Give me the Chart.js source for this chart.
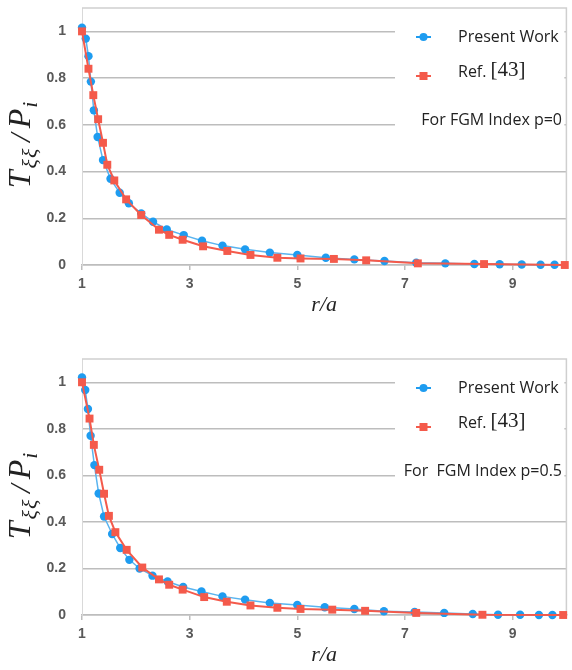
<!DOCTYPE html>
<html>
<head>
<meta charset="utf-8">
<script src="https://cdn.jsdelivr.net/npm/chart.js@4.4.1/dist/chart.umd.min.js"></script>
<style>
  body { margin: 0; background: #fff; }
  canvas { position: absolute; left: 0; }
  #chartP0 { top: 0; }
  #chartP5 { top: 335px; }
</style>
</head>
<body>
<canvas id="chartP0" width="572" height="335"></canvas>
<canvas id="chartP5" width="572" height="335"></canvas>
<script>
const xTicks = [1, 3, 5, 7, 9];
const yTicks = [0, 0.2, 0.4, 0.6, 0.8, 1];

// FGM index p = 0
const presentR0 = [1.0, 1.07, 1.12, 1.165, 1.22, 1.29, 1.39, 1.53, 1.70, 1.87, 2.10, 2.32, 2.575, 2.89, 3.23, 3.61, 4.03, 4.49, 5.0, 5.53, 6.06, 6.62, 7.21, 7.75, 8.29, 8.76, 9.17, 9.52, 9.78];
const presentT0 = [1.016, 0.969, 0.894, 0.785, 0.662, 0.548, 0.449, 0.369, 0.309, 0.264, 0.221, 0.185, 0.152, 0.128, 0.104, 0.083, 0.067, 0.053, 0.043, 0.031, 0.024, 0.017, 0.010, 0.007, 0.004, 0.003, 0.002, 0.001, 0.001];
const refR0 = [1.0, 1.12, 1.21, 1.30, 1.39, 1.47, 1.60, 1.82, 2.10, 2.43, 2.62, 2.87, 3.25, 3.70, 4.13, 4.63, 5.06, 5.68, 6.28, 7.24, 8.47, 9.97];
const refT0 = [1.0, 0.84, 0.727, 0.624, 0.523, 0.429, 0.362, 0.281, 0.214, 0.151, 0.129, 0.108, 0.080, 0.060, 0.043, 0.031, 0.028, 0.026, 0.020, 0.007, 0.004, 0.0];

// FGM index p = 0.5
const presentR5 = [1.0, 1.06, 1.11, 1.16, 1.23, 1.31, 1.41, 1.56, 1.71, 1.88, 2.07, 2.31, 2.59, 2.88, 3.22, 3.61, 4.03, 4.49, 5.0, 5.51, 6.06, 6.61, 7.18, 7.73, 8.26, 8.73, 9.14, 9.49, 9.74];
const presentT5 = [1.021, 0.967, 0.885, 0.770, 0.644, 0.522, 0.423, 0.348, 0.288, 0.237, 0.200, 0.169, 0.144, 0.120, 0.101, 0.080, 0.066, 0.052, 0.043, 0.033, 0.026, 0.016, 0.013, 0.009, 0.004, 0.001, 0.001, 0.0, 0.0];
const refR5 = [1.0, 1.14, 1.22, 1.32, 1.41, 1.50, 1.62, 1.83, 2.12, 2.43, 2.62, 2.87, 3.27, 3.69, 4.13, 4.63, 5.06, 5.65, 6.26, 7.21, 8.44, 9.94];
const refT5 = [1.0, 0.844, 0.731, 0.624, 0.521, 0.426, 0.356, 0.280, 0.204, 0.153, 0.130, 0.109, 0.077, 0.057, 0.041, 0.031, 0.026, 0.023, 0.018, 0.009, 0.001, 0.0];

const BLUE = '#1e9cf0';
const BLUE_LINE = '#5ab4ef';
const RED = '#f45a4b';
const GRID = '#bdbdbd';

const toPoints = (xs, ys) => xs.map((x, i) => ({ x: x, y: ys[i] }));

// top and right edges of the plot frame
const frame = {
  id: 'frame',
  beforeDatasetsDraw(chart) {
    const { ctx, chartArea: a } = chart;
    ctx.save();
    ctx.strokeStyle = '#cfcfcf';
    ctx.lineWidth = 1.5;
    ctx.beginPath();
    ctx.moveTo(a.left, a.top);
    ctx.lineTo(a.right, a.top);
    ctx.lineTo(a.right, a.bottom);
    ctx.stroke();
    ctx.restore();
  }
};

// boxed key in the upper right corner, with the FGM index note
const seriesKey = {
  id: 'seriesKey',
  afterDraw(chart, args, opts) {
    const { ctx, chartArea: a } = chart;
    const t = a.top;
    const ds = chart.data.datasets;
    ctx.save();
    ctx.fillStyle = '#fff';
    ctx.fillRect(395, t + 2, a.right - 397, 150);

    ctx.strokeStyle = BLUE;
    ctx.lineWidth = 2;
    ctx.beginPath(); ctx.moveTo(416, t + 29); ctx.lineTo(431, t + 29); ctx.stroke();
    ctx.fillStyle = BLUE;
    ctx.beginPath(); ctx.arc(423.5, t + 29, 4, 0, Math.PI * 2); ctx.fill();

    ctx.strokeStyle = RED;
    ctx.beginPath(); ctx.moveTo(416, t + 68); ctx.lineTo(431, t + 68); ctx.stroke();
    ctx.fillStyle = RED;
    ctx.fillRect(419.5, t + 64, 8, 8);

    ctx.fillStyle = '#222';
    ctx.textBaseline = 'middle';
    ctx.textAlign = 'left';
    ctx.font = '16px "Open Sans"';
    ctx.fillText(ds[0].label, 458, t + 29);
    const [refWord, refNum] = ds[1].label.split(' ');
    ctx.fillText(refWord, 458, t + 64);
    const w = ctx.measureText(refWord + ' ').width;
    ctx.font = '21px "Liberation Serif"';
    ctx.fillText(refNum, 458 + w, t + 62);

    ctx.font = '16px "Open Sans"';
    ctx.textAlign = 'right';
    ctx.fillText(opts.note, 562, t + 112);
    ctx.restore();
  }
};

// vertical axis title T_ξξ / P_i with subscripts
const yTitle = {
  id: 'yTitle',
  afterDraw(chart) {
    const { ctx, chartArea: a } = chart;
    // text, font size, baseline shift, gap after
    const parts = [['T', 32, 0, 2], ['ξ', 22, 7, 1], ['ξ', 22, 7, 7], ['/', 30, 0, 5], ['P', 32, 0, 1], ['i', 22, 7, 0]];
    ctx.save();
    ctx.translate(23, a.top + 137);
    ctx.rotate(-Math.PI / 2);
    let total = 0;
    const widths = parts.map(([s, size, dy, gap]) => {
      ctx.font = `italic ${size}px "Liberation Serif"`;
      const w = ctx.measureText(s).width + gap;
      total += w;
      return w;
    });
    let x = -total / 2;
    ctx.fillStyle = '#222';
    ctx.textBaseline = 'alphabetic';
    parts.forEach(([s, size, dy], i) => {
      ctx.font = `italic ${size}px "Liberation Serif"`;
      ctx.fillText(s, x, 7 + dy);
      x += widths[i];
    });
    ctx.restore();
  }
};

const tickFont = { family: '"Liberation Sans", Arial, sans-serif', size: 14, weight: 'bold' };

function makeChart(id, presentR, presentT, refR, refT, note, padTop, padBottom) {
  return new Chart(document.getElementById(id), {
    type: 'scatter',
    data: {
      datasets: [{
        label: 'Present Work',
        data: toPoints(presentR, presentT),
        showLine: true,
        borderColor: BLUE_LINE,
        borderWidth: 1.5,
        backgroundColor: BLUE,
        pointBackgroundColor: BLUE,
        pointBorderWidth: 0,
        pointRadius: 4.2,
        pointStyle: 'circle',
        clip: false,
        order: 1
      }, {
        label: 'Ref. [43]',
        data: toPoints(refR, refT),
        showLine: true,
        borderColor: RED,
        borderWidth: 2,
        backgroundColor: RED,
        pointBackgroundColor: RED,
        pointBorderWidth: 0,
        pointRadius: 5.6,
        pointStyle: 'rect',
        clip: false,
        order: 0
      }]
    },
    options: {
      responsive: false,
      animation: false,
      devicePixelRatio: 1,
      layout: { padding: { top: padTop, bottom: padBottom, left: 0, right: 1 } },
      plugins: {
        legend: { display: false },
        tooltip: { enabled: false },
        seriesKey: { note: note }
      },
      scales: {
        x: {
          type: 'linear',
          min: 1,
          max: 10,
          afterBuildTicks: s => { s.ticks = xTicks.map(v => ({ value: v })); },
          afterFit: s => { s.height = 53; s.paddingLeft = 0; s.paddingRight = 0; },
          grid: { drawOnChartArea: false, color: GRID, lineWidth: 1.5, tickLength: 5 },
          border: { color: GRID, width: 1.5 },
          ticks: { padding: 6, font: tickFont, color: '#595959', maxRotation: 0, autoSkip: false },
          title: {
            display: true,
            text: 'r/a',
            color: '#222',
            padding: 0,
            font: { family: '"Liberation Serif"', size: 22, style: 'italic' }
          }
        },
        y: {
          min: 0,
          max: 1.1,
          afterBuildTicks: s => { s.ticks = yTicks.map(v => ({ value: v })); },
          afterFit: s => { s.width = 82; s.paddingTop = 0; s.paddingBottom = 0; },
          grid: { color: GRID, lineWidth: 1.5, drawTicks: false },
          border: { color: '#d9d9d9', width: 1 },
          ticks: {
            padding: 16,
            font: tickFont,
            color: '#595959',
            callback: v => String(+v.toFixed(1))
          }
        }
      }
    },
    plugins: [frame, seriesKey, yTitle]
  });
}

makeChart('chartP0', presentR0, presentT0, refR0, refT0, 'For FGM Index p=0', 8, 17);
makeChart('chartP5', presentR5, presentT5, refR5, refT5, 'For  FGM Index p=0.5', 24, 2);
</script>
</body>
</html>
